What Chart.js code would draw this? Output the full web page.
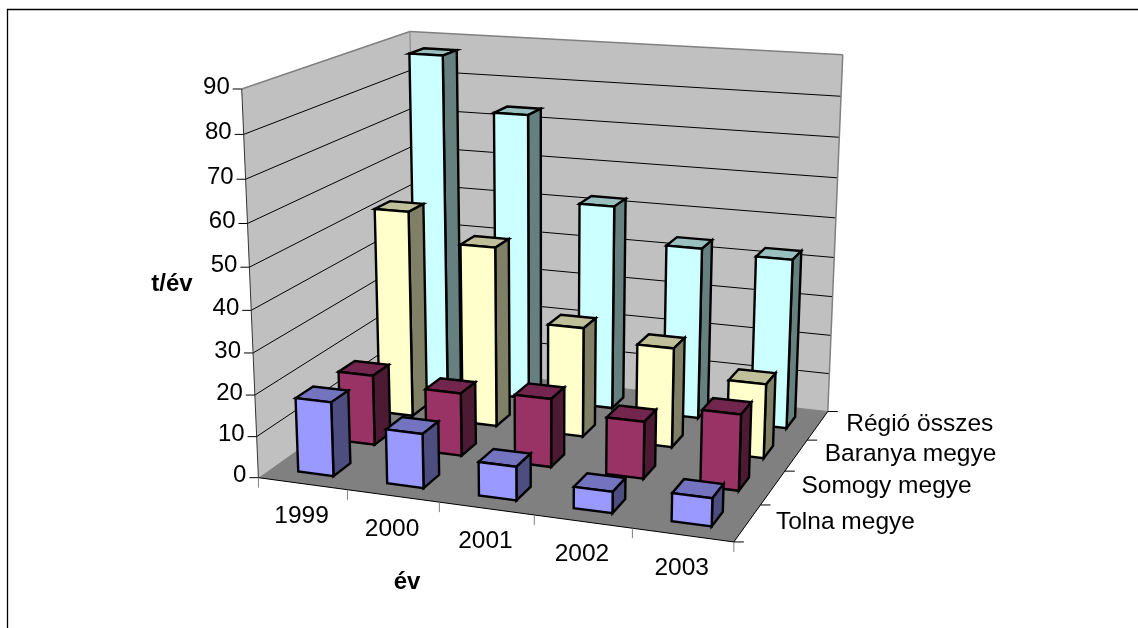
<!DOCTYPE html>
<html>
<head>
<meta charset="utf-8">
<title>t/év</title>
<script src="https://cdn.jsdelivr.net/npm/chart.js@4"></script>
<style>
    html, body { margin: 0; padding: 0; background: #fff; overflow: hidden; }
    canvas { display: block; }
</style>
</head>
<body>
<canvas id="chart" width="1138" height="628"></canvas>
<script>
// ================= DATA =================
const years = ["1999", "2000", "2001", "2002", "2003"];
const regions = ["Tolna megye", "Somogy megye", "Baranya megye", "Régió összes"];

const tolna = [17.9, 13, 8, 5, 6.5];
const somogy = [17.4, 15.5, 16.7, 13.8, 18.2];
const baranya = [52.3, 45.3, 27.4, 24.7, 18.3];
const regio = [87, 73.5, 52.2, 43.5, 42.7];

const yTitle = "t/év";
const xTitle = "év";

// front, side, top
const tolnaColors = ["#9999FF", "#4D4D80", "#7373BF"];
const somogyColors = ["#993366", "#4D1A33", "#73264D"];
const baranyaColors = ["#FFFFCC", "#808066", "#BFBF99"];
const regioColors = ["#CCFFFF", "#668080", "#99BFBF"];

// ================= PROJECTION =================
// corners of the plot box on screen: [u, v, w, screenX, screenY]
const boxCorners = [
    [0, 0, 0, 258.3, 476.7],
    [0, 1, 0, 241.7, 89.3],
    [1, 0, 0, 734, 542.7],
    [0, 0, 1, 416.3, 366.5],
    [1, 0, 1, 827.7, 410.7],
    [0, 1, 1, 410, 31],
    [1, 1, 1, 842.7, 55]
];

function solveLinear(A, b) {
    const n = b.length;
    const m = A.map((row, i) => [...row, b[i]]);
    for (let c = 0; c < n; c++) {
        let p = c;
        for (let r = c + 1; r < n; r++) {
            if (Math.abs(m[r][c]) > Math.abs(m[p][c])) p = r;
        }
        [m[c], m[p]] = [m[p], m[c]];
        for (let r = 0; r < n; r++) {
            if (r === c) continue;
            const f = m[r][c] / m[c][c];
            for (let k = c; k <= n; k++) m[r][k] -= f * m[c][k];
        }
    }
    return m.map((row, i) => row[n] / row[i]);
}

// least squares fit of the camera matrix (last element fixed to 1)
function fitCamera(corners) {
    const rows = [];
    const rhs = [];
    corners.forEach(([u, v, w, sx, sy]) => {
        rows.push([u, v, w, 1, 0, 0, 0, 0, -sx * u, -sx * v, -sx * w]);
        rhs.push(sx);
        rows.push([0, 0, 0, 0, u, v, w, 1, -sy * u, -sy * v, -sy * w]);
        rhs.push(sy);
    });
    const n = 11;
    const ata = Array.from({ length: n }, () => new Array(n).fill(0));
    const atb = new Array(n).fill(0);
    rows.forEach((row, i) => {
        for (let a = 0; a < n; a++) {
            atb[a] += row[a] * rhs[i];
            for (let c = 0; c < n; c++) ata[a][c] += row[a] * row[c];
        }
    });
    return solveLinear(ata, atb);
}

const cam = fitCamera(boxCorners);

function project(u, v, w) {
    const d = cam[8] * u + cam[9] * v + cam[10] * w + 1;
    return {
        x: (cam[0] * u + cam[1] * v + cam[2] * w + cam[3]) / d,
        y: (cam[4] * u + cam[5] * v + cam[6] * w + cam[7]) / d
    };
}

// ================= HELPERS =================
const decimal = (scale, value) => scale.getDecimalForPixel(scale.getPixelForValue(value));

function fillPoly(ctx, pts, color, stroke, width) {
    ctx.beginPath();
    pts.forEach((p, i) => i ? ctx.lineTo(p.x, p.y) : ctx.moveTo(p.x, p.y));
    ctx.closePath();
    ctx.fillStyle = color;
    ctx.fill();
    if (stroke) {
        ctx.strokeStyle = stroke;
        ctx.lineWidth = width;
        ctx.stroke();
    }
}

function line(ctx, a, b, color, width) {
    ctx.beginPath();
    ctx.moveTo(a.x, a.y);
    ctx.lineTo(b.x, b.y);
    ctx.strokeStyle = color;
    ctx.lineWidth = width;
    ctx.stroke();
}

function label(ctx, text, x, y, align, font) {
    ctx.font = font;
    ctx.fillStyle = "#000";
    ctx.textAlign = align;
    ctx.textBaseline = "middle";
    ctx.fillText(text, x, y);
}

// ================= DRAW PARTS =================
function drawFrame(ctx) {
    ctx.beginPath();
    ctx.moveTo(7.5, 628);
    ctx.lineTo(7.5, 9.5);
    ctx.lineTo(1138, 9.5);
    ctx.strokeStyle = "#000";
    ctx.lineWidth = 1.3;
    ctx.stroke();
}

function drawWalls(ctx, yScale) {
    fillPoly(ctx, [project(0, 0, 0), project(0, 1, 0), project(0, 1, 1), project(0, 0, 1)], "#C0C0C0");
    fillPoly(ctx, [project(0, 0, 1), project(0, 1, 1), project(1, 1, 1), project(1, 0, 1)], "#C0C0C0");
    fillPoly(ctx, [project(0, 0, 0), project(1, 0, 0), project(1, 0, 1), project(0, 0, 1)], "#808080");

    yScale.ticks.forEach(t => {
        const v = decimal(yScale, t.value);
        if (v > 0 && v < 1) {
            line(ctx, project(0, v, 0), project(0, v, 1), "#000", 1);
            line(ctx, project(0, v, 1), project(1, v, 1), "#000", 1);
        }
    });

    // wall outline
    line(ctx, project(0, 1, 0), project(0, 1, 1), "#808080", 1.5);
    line(ctx, project(0, 1, 1), project(1, 1, 1), "#808080", 1.5);
    line(ctx, project(1, 1, 1), project(1, 0, 1), "#808080", 1.5);
    line(ctx, project(0, 1, 1), project(0, 0, 1), "#808080", 1);
    line(ctx, project(0, 0, 1), project(1, 0, 1), "#808080", 1);
}

function drawAxes(ctx, xScale, yScale, zScale) {
    const font = "24px 'Liberation Sans', Arial, sans-serif";
    const wideFont = "24.5px 'Liberation Sans', Arial, sans-serif";

    // value axis
    line(ctx, project(0, 0, 0), project(0, 1, 0), "#333", 1);
    yScale.ticks.forEach(t => {
        const p = project(0, decimal(yScale, t.value), 0);
        line(ctx, p, { x: p.x - 9, y: p.y }, "#000", 1);
        label(ctx, String(t.value), p.x - 12, p.y - 2, "right", font);
    });

    // category axis
    line(ctx, project(0, 0, 0), project(1, 0, 0), "#000", 1);
    xScale.ticks.forEach((t, i) => {
        const start = project(decimal(xScale, i - 0.5), 0, 0);
        line(ctx, start, { x: start.x, y: start.y + 10 }, "#808080", 1);
        if (i === xScale.ticks.length - 1) {
            const end = project(decimal(xScale, i + 0.5), 0, 0);
            line(ctx, end, { x: end.x, y: end.y + 10 }, "#808080", 1);
        }
        const c = project(decimal(xScale, i), 0, 0);
        label(ctx, xScale.getLabelForValue(t.value), c.x - 1, c.y + 33, "center", wideFont);
    });

    // depth axis
    line(ctx, project(1, 0, 0), project(1, 0, 1), "#000", 1);
    zScale.ticks.forEach((t, i) => {
        const start = project(1, 0, decimal(zScale, i - 0.5));
        line(ctx, start, { x: start.x + 10, y: start.y }, "#000", 1);
        if (i === zScale.ticks.length - 1) {
            const end = project(1, 0, decimal(zScale, i + 0.5));
            line(ctx, end, { x: end.x + 10, y: end.y }, "#000", 1);
        }
        const c = project(1, 0, decimal(zScale, i));
        label(ctx, zScale.getLabelForValue(t.value), c.x + 28.5, c.y - 1, "left", wideFont);
    });

    const titleFont = "bold 24px 'Liberation Sans', Arial, sans-serif";
    label(ctx, yTitle, 172, 284, "center", titleFont);
    label(ctx, xTitle, 407, 582, "center", titleFont);
}

function drawBar(ctx, xScale, yScale, zScale, i, j, value, colors, barFrac) {
    const u = decimal(xScale, i);
    const w = decimal(zScale, j);
    const halfU = decimal(xScale, 0.5) - decimal(xScale, 0);
    const halfW = decimal(zScale, 0.5) - decimal(zScale, 0);
    const u0 = u - halfU * barFrac;
    const u1 = u + halfU * barFrac;
    const w0 = w - halfW * barFrac;
    const w1 = w + halfW * barFrac;
    const v = decimal(yScale, value);

    ctx.lineJoin = "miter";
    // top
    fillPoly(ctx, [project(u0, v, w0), project(u1, v, w0), project(u1, v, w1), project(u0, v, w1)], colors[2], "#000", 2.4);
    // side
    fillPoly(ctx, [project(u1, 0, w0), project(u1, v, w0), project(u1, v, w1), project(u1, 0, w1)], colors[1], "#000", 2.4);
    // front
    fillPoly(ctx, [project(u0, 0, w0), project(u0, v, w0), project(u1, v, w0), project(u1, 0, w0)], colors[0], "#000", 2.4);
}

// ================= PLUGIN =================
const bars3d = {
    id: "bars3d",
    beforeDatasetsDraw(chart) {
        const ctx = chart.ctx;
        const { x, y, depth } = chart.scales;

        ctx.save();
        drawFrame(ctx);
        drawWalls(ctx, y);

        // back series first so the front ones cover them
        for (let j = chart.data.datasets.length - 1; j >= 0; j--) {
            const ds = chart.data.datasets[j];
            ds.data.forEach((value, i) => {
                drawBar(ctx, x, y, depth, i, j, value, ds.faceColors, 0.4);
            });
        }

        drawAxes(ctx, x, y, depth);
        ctx.restore();

        // flat bars are replaced by the drawing above
        return false;
    }
};

// ================= CHART =================
const seriesValues = [tolna, somogy, baranya, regio];
const seriesColors = [tolnaColors, somogyColors, baranyaColors, regioColors];

new Chart(document.getElementById("chart").getContext("2d"), {
    type: "bar",
    data: {
        labels: years,
        datasets: regions.map((name, j) => ({
            label: name,
            data: seriesValues[j],
            backgroundColor: seriesColors[j][0],
            faceColors: seriesColors[j]
        }))
    },
    plugins: [bars3d],
    options: {
        responsive: false,
        animation: false,
        devicePixelRatio: 1,
        plugins: {
            legend: { display: false },
            tooltip: { enabled: false }
        },
        scales: {
            x: { type: "category", offset: true, display: false },
            y: { type: "linear", min: 0, max: 90, ticks: { stepSize: 10 }, display: false },
            depth: { type: "category", axis: "x", labels: regions, offset: true, display: false }
        }
    }
});
</script>
</body>
</html>
